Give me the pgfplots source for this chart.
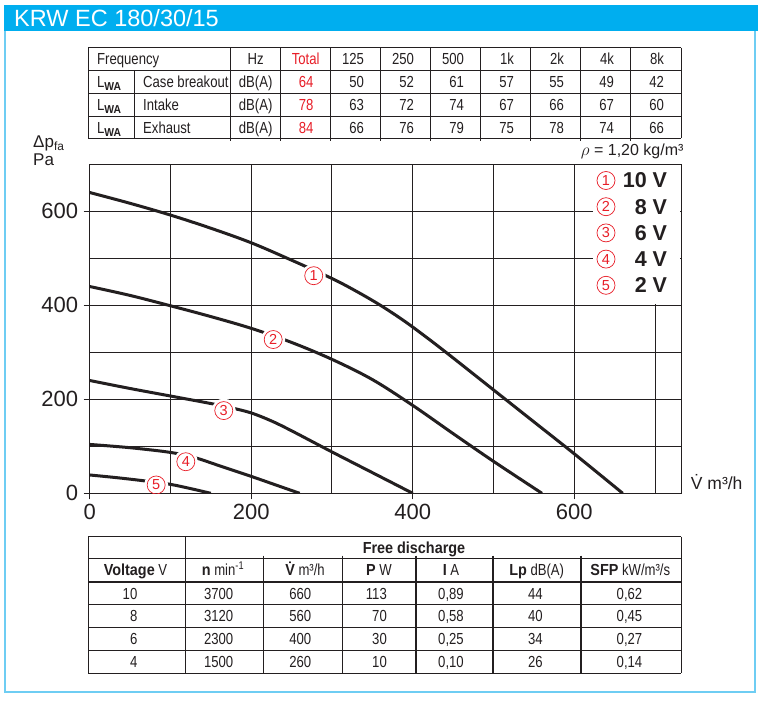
\documentclass[border=0pt]{standalone}
\usepackage{fontspec}
\setmainfont{Liberation Sans}
\newfontfamily\cond{Liberation Sans}[FakeStretch=0.82]
\newfontfamily\condb{Liberation Sans Bold}[FakeStretch=0.9]
\usepackage{pgfplots}
\pgfplotsset{compat=1.18}
\definecolor{hdr}{RGB}{0,174,239}
\definecolor{frm}{RGB}{110,205,243}
\definecolor{cred}{RGB}{232,30,40}
\definecolor{ink}{RGB}{35,31,32}
\newcommand\fs[1]{\fontsize{#1bp}{#1bp}\selectfont}
\tikzset{
  tt/.style={inner sep=0pt, text=ink, font=\cond\fs{16}},
  cnum/.style={circle, draw=cred, line width=0.7bp, minimum size=18bp, inner sep=0pt, text=cred, font=\fs{14.5}},
  curve/.style={ink, line width=3bp, smooth, tension=0.55},
}
\begin{document}
\begin{tikzpicture}
\useasboundingbox (0,0) rectangle (764bp,-701bp);
\fill[white] (0,0) rectangle (764bp,-701bp);
\begin{scope}[x=1bp,y=-1bp]
  % header and frame
  \fill[hdr] (4,5) rectangle (758,30.7);
  \node[anchor=base west, inner sep=0pt, text=white, font=\fs{23.5}] at (14,26) {KRW EC 180/30/15};
  \draw[frm, line width=1.7bp] (5.3,30.7) -- (5.3,692.3) -- (755.3,692.3) -- (755.3,30.7);
  % sound table
  \begin{scope}[ink, line width=1.1bp]
    \foreach \y in {47.5,70.3,93.3,116.3,138.3} \draw (88.3,\y) -- (681.3,\y);
    \draw (88.3,47.5) -- (88.3,138.3);
    \draw (134.7,70.3) -- (134.7,138.3);
    \foreach \x in {230.7,280.7,330.7,380.7,430.7,480.7,530.7,580.7,630.7} \draw (\x,47.5) -- (\x,140.5);
    \draw (681.3,47.5) -- (681.3,138.3);
  \end{scope}
  \node[tt, anchor=base west] at (97,64.7) {Frequency};
  \node[tt, anchor=base] at (255.7,64.7) {Hz};
  \node[tt, anchor=base, text=cred] at (305.7,64.7) {Total};
  \foreach \v [count=\i] in {125,250,500,1k,2k,4k,8k}
    \node[tt, anchor=base east] at ({364.2+50*(\i-1)},64.7) {\v};
  \foreach \r/\b/\t [count=\j] in {Case breakout/87.5/64, Intake/110.5/78, Exhaust/133/84} {
    \node[tt, anchor=base west] at (97,\b) {L\raisebox{-3bp}{\condb\fs{11.5}WA}};
    \node[tt, anchor=base west] at (143,\b) {\r};
    \node[tt, anchor=base] at (255.7,\b) {dB(A)};
    \node[tt, anchor=base east, text=cred] at (313.7,\b) {\t};
  }
  \foreach \v [count=\i] in {50,52,61,57,55,49,42}
    \node[tt, anchor=base east] at ({364.2+50*(\i-1)},87.5) {\v};
  \foreach \v [count=\i] in {63,72,74,67,66,67,60}
    \node[tt, anchor=base east] at ({364.2+50*(\i-1)},110.5) {\v};
  \foreach \v [count=\i] in {66,76,79,75,78,74,66}
    \node[tt, anchor=base east] at ({364.2+50*(\i-1)},133) {\v};
  % axis captions
  \node[anchor=base west, inner sep=0pt, text=ink, font=\fs{17}] at (33,147.7) {Δp\textsubscript{fa}};
  \node[anchor=base west, inner sep=0pt, text=ink, font=\fs{17}] at (33,165.7) {Pa};
  \node[anchor=base east, inner sep=0pt, text=ink, font=\fs{16}] at (683.7,155) {$\rho$ = 1,20 kg/m³};
\end{scope}

\begin{axis}[
  at={(89.7bp,-493.3bp)}, anchor=south west,
  scale only axis, width=592bp, height=329bp,
  xmin=0, xmax=733, ymin=0, ymax=700,
  xtick={0,200,400,600}, ytick={0,200,400,600},
  minor xtick={100,300,500,700}, minor ytick={100,300,500},
  xtick pos=bottom, ytick pos=left,
  grid=both,
  major grid style={ink, line width=1bp},
  minor grid style={ink, line width=1bp},
  axis line style={ink, line width=1bp},
  tick align=outside, major tick length=6bp, minor tick length=0pt,
  tick style={ink, line width=1bp},
  /pgf/number format/assume math mode=true,
  ticklabel style={font=\fs{22}, text=ink},
  yticklabel style={xshift=-2bp},
  xticklabel style={yshift=-1bp},
  xlabel={\.{V} m³/h},
  xlabel style={at={(axis description cs:1,0)}, anchor=base west, inner sep=0pt, xshift=9bp, yshift=4bp, font=\fs{17.5}, text=ink},
]
% 10 V
\addplot[curve] coordinates {(0,640)(50,617)(100,592)(150,564)(200,533)(250,496)(300,457)(330,430)(360,400)(390,366)(420,328)(450,288)(500,220)(550,152)(600,84)(660,0)};
% 8 V
\addplot[curve] coordinates {(0,440)(50,421)(100,399)(150,376)(200,351)(250,321)(300,285)(350,242)(400,187)(450,127)(500,68)(560,0)};
% 6 V
\addplot[curve] coordinates {(0,240)(50,223)(100,207)(150,191)(175,182)(200,171)(225,154)(250,133)(300,88)(350,44)(400,0)};
% 4 V
\addplot[curve] coordinates {(0,104)(50,97)(100,87)(130,76)(160,59)(200,36)(230,18)(260,0)};
% 2 V
\addplot[curve] coordinates {(0,39)(35,33)(70,26)(100,19)(125,10)(150,0)};
\fill[white] (axis cs:277.4,463) circle[radius=12bp];
\node[cnum] at (axis cs:277.4,463) {1};
\fill[white] (axis cs:227.2,327.2) circle[radius=12bp];
\node[cnum] at (axis cs:227.2,327.2) {2};
\fill[white] (axis cs:166,176) circle[radius=12bp];
\node[cnum] at (axis cs:166,176) {3};
\fill[white] (axis cs:119,67.2) circle[radius=12bp];
\node[cnum] at (axis cs:119,67.2) {4};
\fill[white] (axis cs:82.3,17.7) circle[radius=12bp];
\draw[ink, line width=1bp] (axis cs:0,0) -- (axis cs:733,0);
\node[cnum] at (axis cs:82.3,17.7) {5};
\end{axis}

\begin{scope}[x=1bp,y=-1bp]
  % legend
  \fill[white] (593,165.3) rectangle (680,303.5);
  \foreach \n/\t [count=\i] in {1/10 V,2/8 V,3/6 V,4/4 V,5/2 V} {
    \node[cnum] at (606,{180.5+26.2*(\i-1)}) {\n};
    \node[anchor=east, inner sep=0pt, text=ink, font=\bfseries\fs{21.5}] at (667.3,{180.5+26.2*(\i-1)}) {\t};
  }
  % free discharge table
  \begin{scope}[ink, line width=1.1bp]
    \foreach \y in {536.5,558.8,582,604.8,627.6,650.5,673.3} \draw (88.3,\y) -- (681.3,\y);
    \draw (88.3,536.5) -- (88.3,673.3);
    \draw (185.3,536.5) -- (185.3,673.3);
    \foreach \x in {263.3,342.3,416,493,581} \draw (\x,555.5) -- (\x,673.3);
    \draw (681.3,536.5) -- (681.3,673.3);
  \end{scope}
  \node[tt, anchor=base, font=\condb\fs{16}] at (414,553.2) {Free discharge};
  \node[tt, anchor=base] at (135.5,575.9) {{\condb Voltage} V};
  \node[tt, anchor=base] at (223,575.9) {{\condb n} min\textsuperscript{-1}};
  \node[tt, anchor=base] at (305,575.9) {{\condb\.{V}} m³/h};
  \node[tt, anchor=base] at (379,575.9) {{\condb P} W};
  \node[tt, anchor=base] at (451,575.9) {{\condb I} A};
  \node[tt, anchor=base] at (536.7,575.9) {{\condb Lp} dB(A)};
  \node[tt, anchor=base] at (630.3,575.9) {{\condb SFP} kW/m³/s};
  \foreach \u/\n/\v/\p/\c/\l/\s [count=\i] in {
      10/3700/660/113/{0,89}/44/{0,62},
      8/3120/560/70/{0,58}/40/{0,45},
      6/2300/400/30/{0,25}/34/{0,27},
      4/1500/260/10/{0,10}/26/{0,14}} {
    \pgfmathsetmacro\b{599.1+22.8*(\i-1)}
    \node[tt, anchor=base east] at (137.5,\b) {\u};
    \node[tt, anchor=base] at (218.7,\b) {\n};
    \node[tt, anchor=base] at (300.2,\b) {\v};
    \node[tt, anchor=base east] at (387,\b) {\p};
    \node[tt, anchor=base] at (451,\b) {\c};
    \node[tt, anchor=base] at (535.3,\b) {\l};
    \node[tt, anchor=base] at (629.5,\b) {\s};
  }
\end{scope}
\end{tikzpicture}
\end{document}
